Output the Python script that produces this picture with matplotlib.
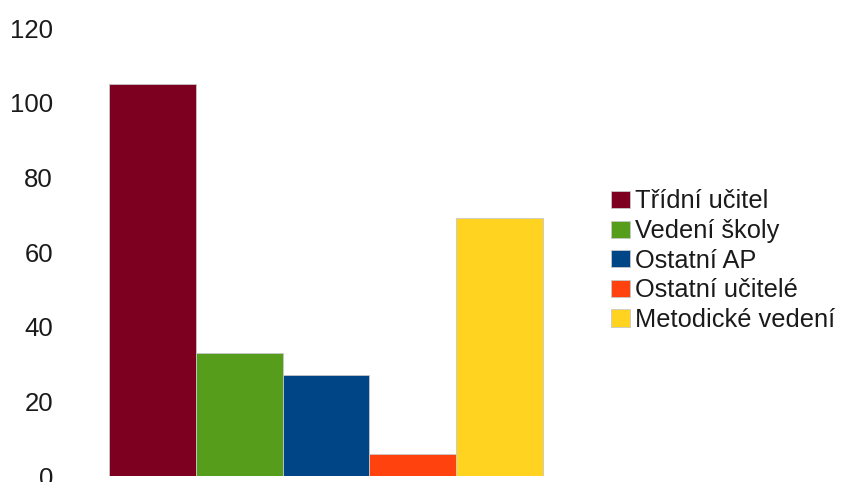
import matplotlib
matplotlib.use("Agg")
import matplotlib.pyplot as plt

series_names = ["Třídní učitel", "Vedení školy", "Ostatní AP", "Ostatní učitelé", "Metodické vedení"]
values = [105, 33, 27, 6, 69]
colors = ["#7E0021", "#579D1C", "#004586", "#FF420E", "#FFD320"]
y_ticks = [0, 20, 40, 60, 80, 100, 120]

plt.rcParams['font.family'] = ['Liberation Sans', 'DejaVu Sans']

W, H = 842, 482
fig = plt.figure(figsize=(W / 100, H / 100), dpi=100)
ax_left, ax_right = 62, 590
ax_bottom, ax_top = 476, 28
ax = fig.add_axes([ax_left / W, (H - ax_bottom) / H, (ax_right - ax_left) / W, (ax_bottom - ax_top) / H])

for i, (name, v, c) in enumerate(zip(series_names, values, colors)):
    ax.bar(i, v, width=1.0, color=c, edgecolor="#c8c8c8", linewidth=0.6, label=name)

ax.set_ylim(0, 120)
ax.set_xlim(-1.04, 5.04)
ax.set_yticks(y_ticks)
ax.set_yticklabels([str(t) for t in y_ticks], fontsize=18.5, color="#1a1a1a")
ax.tick_params(axis='y', length=0, pad=6.5)
ax.set_xticks([])
for s in ax.spines.values():
    s.set_visible(False)

leg = fig.legend(loc='upper left', bbox_to_anchor=(611 / W, 1 - 189.5 / H),
                 frameon=False, fontsize=18.3, borderpad=0, borderaxespad=0,
                 handlelength=0.75, handleheight=0.67, handletextpad=0.2,
                 labelspacing=0.22)
for t in leg.get_texts():
    t.set_color("#1a1a1a")

fig.savefig("out.png", dpi=100)
